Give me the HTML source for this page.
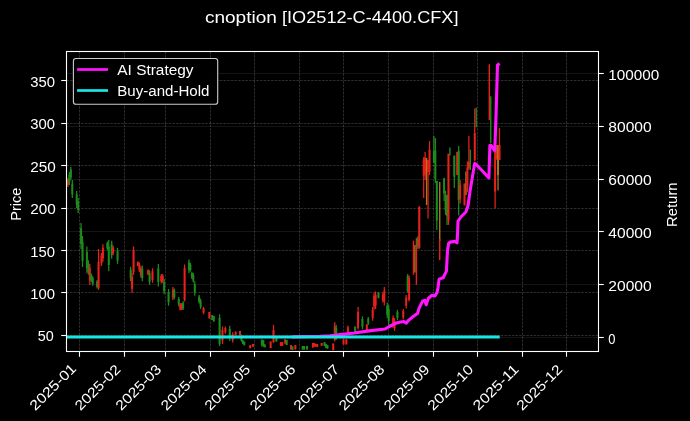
<!DOCTYPE html>
<html><head><meta charset="utf-8"><title>cnoption</title>
<style>html,body{margin:0;padding:0;background:#000;overflow:hidden}svg{display:block;will-change:transform}text{font-family:"Liberation Sans",sans-serif;fill:#fff}</style>
</head><body>
<svg width="690" height="421" viewBox="0 0 690 421">
<rect x="0" y="0" width="690" height="421" fill="#000"/>
<defs><clipPath id="ax"><rect x="66.5" y="51.5" width="532.0" height="300.0"/></clipPath><filter id="bl" x="-5%" y="-5%" width="110%" height="110%"><feGaussianBlur stdDeviation="0.5"/></filter><filter id="bl2" x="-5%" y="-5%" width="110%" height="110%"><feGaussianBlur stdDeviation="0.45"/></filter></defs>
<g clip-path="url(#ax)" fill="none">
<line x1="79.50" y1="51.5" x2="79.50" y2="351.5" stroke="#fff" stroke-opacity="0.25" stroke-width="0.7" stroke-dasharray="2.55,1.1"/>
<line x1="124.50" y1="51.5" x2="124.50" y2="351.5" stroke="#fff" stroke-opacity="0.25" stroke-width="0.7" stroke-dasharray="2.55,1.1"/>
<line x1="165.50" y1="51.5" x2="165.50" y2="351.5" stroke="#fff" stroke-opacity="0.25" stroke-width="0.7" stroke-dasharray="2.55,1.1"/>
<line x1="210.50" y1="51.5" x2="210.50" y2="351.5" stroke="#fff" stroke-opacity="0.25" stroke-width="0.7" stroke-dasharray="2.55,1.1"/>
<line x1="254.50" y1="51.5" x2="254.50" y2="351.5" stroke="#fff" stroke-opacity="0.25" stroke-width="0.7" stroke-dasharray="2.55,1.1"/>
<line x1="299.50" y1="51.5" x2="299.50" y2="351.5" stroke="#fff" stroke-opacity="0.25" stroke-width="0.7" stroke-dasharray="2.55,1.1"/>
<line x1="343.50" y1="51.5" x2="343.50" y2="351.5" stroke="#fff" stroke-opacity="0.25" stroke-width="0.7" stroke-dasharray="2.55,1.1"/>
<line x1="388.50" y1="51.5" x2="388.50" y2="351.5" stroke="#fff" stroke-opacity="0.25" stroke-width="0.7" stroke-dasharray="2.55,1.1"/>
<line x1="433.50" y1="51.5" x2="433.50" y2="351.5" stroke="#fff" stroke-opacity="0.25" stroke-width="0.7" stroke-dasharray="2.55,1.1"/>
<line x1="477.50" y1="51.5" x2="477.50" y2="351.5" stroke="#fff" stroke-opacity="0.25" stroke-width="0.7" stroke-dasharray="2.55,1.1"/>
<line x1="522.50" y1="51.5" x2="522.50" y2="351.5" stroke="#fff" stroke-opacity="0.25" stroke-width="0.7" stroke-dasharray="2.55,1.1"/>
<line x1="566.50" y1="51.5" x2="566.50" y2="351.5" stroke="#fff" stroke-opacity="0.25" stroke-width="0.7" stroke-dasharray="2.55,1.1"/>
<line x1="66.5" y1="335.50" x2="598.5" y2="335.50" stroke="#fff" stroke-opacity="0.25" stroke-width="0.7" stroke-dasharray="2.55,1.1"/>
<line x1="66.5" y1="292.50" x2="598.5" y2="292.50" stroke="#fff" stroke-opacity="0.25" stroke-width="0.7" stroke-dasharray="2.55,1.1"/>
<line x1="66.5" y1="250.50" x2="598.5" y2="250.50" stroke="#fff" stroke-opacity="0.25" stroke-width="0.7" stroke-dasharray="2.55,1.1"/>
<line x1="66.5" y1="208.50" x2="598.5" y2="208.50" stroke="#fff" stroke-opacity="0.25" stroke-width="0.7" stroke-dasharray="2.55,1.1"/>
<line x1="66.5" y1="165.50" x2="598.5" y2="165.50" stroke="#fff" stroke-opacity="0.25" stroke-width="0.7" stroke-dasharray="2.55,1.1"/>
<line x1="66.5" y1="123.50" x2="598.5" y2="123.50" stroke="#fff" stroke-opacity="0.25" stroke-width="0.7" stroke-dasharray="2.55,1.1"/>
<line x1="66.5" y1="80.50" x2="598.5" y2="80.50" stroke="#fff" stroke-opacity="0.25" stroke-width="0.7" stroke-dasharray="2.55,1.1"/>
<line x1="66.5" y1="337.50" x2="598.5" y2="337.50" stroke="#fff" stroke-opacity="0.12" stroke-width="0.7"/>
<line x1="66.5" y1="284.50" x2="598.5" y2="284.50" stroke="#fff" stroke-opacity="0.12" stroke-width="0.7"/>
<line x1="66.5" y1="231.50" x2="598.5" y2="231.50" stroke="#fff" stroke-opacity="0.12" stroke-width="0.7"/>
<line x1="66.5" y1="179.50" x2="598.5" y2="179.50" stroke="#fff" stroke-opacity="0.12" stroke-width="0.7"/>
<line x1="66.5" y1="126.50" x2="598.5" y2="126.50" stroke="#fff" stroke-opacity="0.12" stroke-width="0.7"/>
<line x1="66.5" y1="73.50" x2="598.5" y2="73.50" stroke="#fff" stroke-opacity="0.12" stroke-width="0.7"/>
</g>
<g clip-path="url(#ax)"><g filter="url(#bl)">
<line x1="67.94" y1="178" x2="67.94" y2="187" stroke="#e6201a" stroke-width="1.25"/>
<line x1="67.94" y1="179.8" x2="67.94" y2="185.2" stroke="#e6201a" stroke-width="2.0"/>
<line x1="69.39" y1="172" x2="69.39" y2="185" stroke="#1c8c1e" stroke-width="1.25"/>
<line x1="69.39" y1="174.6" x2="69.39" y2="182.4" stroke="#1c8c1e" stroke-width="2.0"/>
<line x1="70.85" y1="167" x2="70.85" y2="180" stroke="#1c8c1e" stroke-width="1.25"/>
<line x1="70.85" y1="169.6" x2="70.85" y2="177.4" stroke="#1c8c1e" stroke-width="2.0"/>
<line x1="72.31" y1="180" x2="72.31" y2="198" stroke="#1c8c1e" stroke-width="1.25"/>
<line x1="72.31" y1="183.6" x2="72.31" y2="194.4" stroke="#1c8c1e" stroke-width="2.0"/>
<line x1="76.68" y1="191" x2="76.68" y2="208" stroke="#1c8c1e" stroke-width="1.25"/>
<line x1="76.68" y1="194.4" x2="76.68" y2="204.6" stroke="#1c8c1e" stroke-width="2.0"/>
<line x1="78.14" y1="198" x2="78.14" y2="213" stroke="#1c8c1e" stroke-width="1.25"/>
<line x1="78.14" y1="201.0" x2="78.14" y2="210.0" stroke="#1c8c1e" stroke-width="2.0"/>
<line x1="81.06" y1="223" x2="81.06" y2="249" stroke="#1c8c1e" stroke-width="1.25"/>
<line x1="81.06" y1="228.2" x2="81.06" y2="243.8" stroke="#1c8c1e" stroke-width="2.0"/>
<line x1="82.52" y1="236" x2="82.52" y2="267" stroke="#1c8c1e" stroke-width="1.25"/>
<line x1="82.52" y1="242.2" x2="82.52" y2="260.8" stroke="#1c8c1e" stroke-width="2.0"/>
<line x1="86.89" y1="246.5" x2="86.89" y2="273.3" stroke="#1c8c1e" stroke-width="1.25"/>
<line x1="86.89" y1="251.86" x2="86.89" y2="267.94" stroke="#1c8c1e" stroke-width="2.0"/>
<line x1="88.35" y1="260.3" x2="88.35" y2="274.8" stroke="#1c8c1e" stroke-width="1.25"/>
<line x1="88.35" y1="263.2" x2="88.35" y2="271.90000000000003" stroke="#1c8c1e" stroke-width="2.0"/>
<line x1="89.81" y1="263.9" x2="89.81" y2="284.9" stroke="#e6201a" stroke-width="1.25"/>
<line x1="89.81" y1="268.09999999999997" x2="89.81" y2="280.7" stroke="#e6201a" stroke-width="2.0"/>
<line x1="91.26" y1="273.3" x2="91.26" y2="282" stroke="#1c8c1e" stroke-width="1.25"/>
<line x1="91.26" y1="275.04" x2="91.26" y2="280.26" stroke="#1c8c1e" stroke-width="2.0"/>
<line x1="92.72" y1="276.2" x2="92.72" y2="285.7" stroke="#1c8c1e" stroke-width="1.25"/>
<line x1="92.72" y1="278.09999999999997" x2="92.72" y2="283.8" stroke="#1c8c1e" stroke-width="2.0"/>
<line x1="97.1" y1="279.9" x2="97.1" y2="288.6" stroke="#1c8c1e" stroke-width="1.25"/>
<line x1="97.1" y1="281.64" x2="97.1" y2="286.86" stroke="#1c8c1e" stroke-width="2.0"/>
<line x1="98.55" y1="249" x2="98.55" y2="290" stroke="#e6201a" stroke-width="1.25"/>
<line x1="98.55" y1="262" x2="98.55" y2="288" stroke="#e6201a" stroke-width="2.0"/>
<line x1="101.47" y1="253" x2="101.47" y2="266" stroke="#e6201a" stroke-width="1.25"/>
<line x1="101.47" y1="255.6" x2="101.47" y2="263.4" stroke="#e6201a" stroke-width="2.0"/>
<line x1="102.93" y1="244.3" x2="102.93" y2="261.7" stroke="#e6201a" stroke-width="1.25"/>
<line x1="102.93" y1="247.78" x2="102.93" y2="258.21999999999997" stroke="#e6201a" stroke-width="2.0"/>
<line x1="107.3" y1="241.4" x2="107.3" y2="250" stroke="#1c8c1e" stroke-width="1.25"/>
<line x1="107.3" y1="243.12" x2="107.3" y2="248.28" stroke="#1c8c1e" stroke-width="2.0"/>
<line x1="108.76" y1="240" x2="108.76" y2="271.2" stroke="#1c8c1e" stroke-width="1.25"/>
<line x1="108.76" y1="246.24" x2="108.76" y2="264.96" stroke="#1c8c1e" stroke-width="2.0"/>
<line x1="111.68" y1="240.7" x2="111.68" y2="258.8" stroke="#1c8c1e" stroke-width="1.25"/>
<line x1="111.68" y1="244.32" x2="111.68" y2="255.18" stroke="#1c8c1e" stroke-width="2.0"/>
<line x1="113.13" y1="245.8" x2="113.13" y2="255.2" stroke="#e6201a" stroke-width="1.25"/>
<line x1="113.13" y1="247.68" x2="113.13" y2="253.32" stroke="#e6201a" stroke-width="2.0"/>
<line x1="117.51" y1="248" x2="117.51" y2="263.9" stroke="#1c8c1e" stroke-width="1.25"/>
<line x1="117.51" y1="251.18" x2="117.51" y2="260.71999999999997" stroke="#1c8c1e" stroke-width="2.0"/>
<line x1="130.63" y1="266.8" x2="130.63" y2="281.3" stroke="#1c8c1e" stroke-width="1.25"/>
<line x1="130.63" y1="269.7" x2="130.63" y2="278.40000000000003" stroke="#1c8c1e" stroke-width="2.0"/>
<line x1="132.09" y1="272.6" x2="132.09" y2="292.9" stroke="#e6201a" stroke-width="1.25"/>
<line x1="132.09" y1="276.66" x2="132.09" y2="288.84" stroke="#e6201a" stroke-width="2.0"/>
<line x1="133.55" y1="246.5" x2="133.55" y2="274.8" stroke="#e6201a" stroke-width="1.25"/>
<line x1="133.55" y1="250" x2="133.55" y2="272" stroke="#e6201a" stroke-width="2.0"/>
<line x1="137.92" y1="261.7" x2="137.92" y2="266.1" stroke="#e6201a" stroke-width="1.25"/>
<line x1="137.92" y1="261.7" x2="137.92" y2="266.1" stroke="#e6201a" stroke-width="2.0"/>
<line x1="139.38" y1="262.5" x2="139.38" y2="272" stroke="#e6201a" stroke-width="1.25"/>
<line x1="139.38" y1="264.4" x2="139.38" y2="270.1" stroke="#e6201a" stroke-width="2.0"/>
<line x1="140.84" y1="266" x2="140.84" y2="277.7" stroke="#e6201a" stroke-width="1.25"/>
<line x1="140.84" y1="268.34" x2="140.84" y2="275.36" stroke="#e6201a" stroke-width="2.0"/>
<line x1="142.29" y1="265.4" x2="142.29" y2="281.3" stroke="#1c8c1e" stroke-width="1.25"/>
<line x1="142.29" y1="268.58" x2="142.29" y2="278.12" stroke="#1c8c1e" stroke-width="2.0"/>
<line x1="148.13" y1="269.7" x2="148.13" y2="274.8" stroke="#e6201a" stroke-width="1.25"/>
<line x1="148.13" y1="269.7" x2="148.13" y2="274.8" stroke="#e6201a" stroke-width="2.0"/>
<line x1="149.58" y1="270.4" x2="149.58" y2="284.9" stroke="#1c8c1e" stroke-width="1.25"/>
<line x1="149.58" y1="273.29999999999995" x2="149.58" y2="282.0" stroke="#1c8c1e" stroke-width="2.0"/>
<line x1="152.5" y1="268.3" x2="152.5" y2="282.8" stroke="#e6201a" stroke-width="1.25"/>
<line x1="152.5" y1="271.2" x2="152.5" y2="279.90000000000003" stroke="#e6201a" stroke-width="2.0"/>
<line x1="158.33" y1="263.9" x2="158.33" y2="286.4" stroke="#1c8c1e" stroke-width="1.25"/>
<line x1="158.33" y1="268.4" x2="158.33" y2="281.9" stroke="#1c8c1e" stroke-width="2.0"/>
<line x1="161.25" y1="274" x2="161.25" y2="283.4" stroke="#e6201a" stroke-width="1.25"/>
<line x1="161.25" y1="275.88" x2="161.25" y2="281.52" stroke="#e6201a" stroke-width="2.0"/>
<line x1="162.71" y1="274" x2="162.71" y2="283" stroke="#e6201a" stroke-width="1.25"/>
<line x1="162.71" y1="275.8" x2="162.71" y2="281.2" stroke="#e6201a" stroke-width="2.0"/>
<line x1="164.16" y1="279" x2="164.16" y2="294.2" stroke="#1c8c1e" stroke-width="1.25"/>
<line x1="164.16" y1="282.04" x2="164.16" y2="291.15999999999997" stroke="#1c8c1e" stroke-width="2.0"/>
<line x1="168.54" y1="289" x2="168.54" y2="305.8" stroke="#1c8c1e" stroke-width="1.25"/>
<line x1="168.54" y1="292.36" x2="168.54" y2="302.44" stroke="#1c8c1e" stroke-width="2.0"/>
<line x1="172.91" y1="287" x2="172.91" y2="300" stroke="#e6201a" stroke-width="1.25"/>
<line x1="172.91" y1="289.6" x2="172.91" y2="297.4" stroke="#e6201a" stroke-width="2.0"/>
<line x1="174.37" y1="288.4" x2="174.37" y2="299.3" stroke="#1c8c1e" stroke-width="1.25"/>
<line x1="174.37" y1="290.58" x2="174.37" y2="297.12" stroke="#1c8c1e" stroke-width="2.0"/>
<line x1="178.74" y1="297" x2="178.74" y2="306.5" stroke="#1c8c1e" stroke-width="1.25"/>
<line x1="178.74" y1="298.9" x2="178.74" y2="304.6" stroke="#1c8c1e" stroke-width="2.0"/>
<line x1="180.2" y1="303" x2="180.2" y2="310.6" stroke="#e6201a" stroke-width="1.25"/>
<line x1="180.2" y1="304.52" x2="180.2" y2="309.08000000000004" stroke="#e6201a" stroke-width="2.0"/>
<line x1="181.66" y1="303.3" x2="181.66" y2="310" stroke="#e6201a" stroke-width="1.25"/>
<line x1="181.66" y1="303.3" x2="181.66" y2="310" stroke="#e6201a" stroke-width="2.0"/>
<line x1="183.12" y1="301" x2="183.12" y2="310" stroke="#1c8c1e" stroke-width="1.25"/>
<line x1="183.12" y1="302.8" x2="183.12" y2="308.2" stroke="#1c8c1e" stroke-width="2.0"/>
<line x1="184.58" y1="264.5" x2="184.58" y2="301.6" stroke="#e6201a" stroke-width="1.25"/>
<line x1="184.58" y1="268" x2="184.58" y2="300" stroke="#e6201a" stroke-width="2.0"/>
<line x1="188.95" y1="259.4" x2="188.95" y2="273.2" stroke="#1c8c1e" stroke-width="1.25"/>
<line x1="188.95" y1="262.15999999999997" x2="188.95" y2="270.44" stroke="#1c8c1e" stroke-width="2.0"/>
<line x1="190.41" y1="263" x2="190.41" y2="271.7" stroke="#1c8c1e" stroke-width="1.25"/>
<line x1="190.41" y1="264.74" x2="190.41" y2="269.96" stroke="#1c8c1e" stroke-width="2.0"/>
<line x1="191.87" y1="271.7" x2="191.87" y2="279" stroke="#1c8c1e" stroke-width="1.25"/>
<line x1="191.87" y1="273.15999999999997" x2="191.87" y2="277.54" stroke="#1c8c1e" stroke-width="2.0"/>
<line x1="193.32" y1="273" x2="193.32" y2="282.6" stroke="#1c8c1e" stroke-width="1.25"/>
<line x1="193.32" y1="274.92" x2="193.32" y2="280.68" stroke="#1c8c1e" stroke-width="2.0"/>
<line x1="194.78" y1="281.2" x2="194.78" y2="295.7" stroke="#1c8c1e" stroke-width="1.25"/>
<line x1="194.78" y1="284.09999999999997" x2="194.78" y2="292.8" stroke="#1c8c1e" stroke-width="2.0"/>
<line x1="199.16" y1="295" x2="199.16" y2="303.5" stroke="#1c8c1e" stroke-width="1.25"/>
<line x1="199.16" y1="296.7" x2="199.16" y2="301.8" stroke="#1c8c1e" stroke-width="2.0"/>
<line x1="200.61" y1="298.8" x2="200.61" y2="309" stroke="#1c8c1e" stroke-width="1.25"/>
<line x1="200.61" y1="300.84000000000003" x2="200.61" y2="306.96" stroke="#1c8c1e" stroke-width="2.0"/>
<line x1="203.53" y1="306.7" x2="203.53" y2="314.2" stroke="#e6201a" stroke-width="1.25"/>
<line x1="203.53" y1="308.2" x2="203.53" y2="312.7" stroke="#e6201a" stroke-width="2.0"/>
<line x1="209.36" y1="312" x2="209.36" y2="318.5" stroke="#e6201a" stroke-width="1.25"/>
<line x1="209.36" y1="312" x2="209.36" y2="318.5" stroke="#e6201a" stroke-width="2.0"/>
<line x1="212.28" y1="315" x2="212.28" y2="320" stroke="#1c8c1e" stroke-width="1.25"/>
<line x1="212.28" y1="315" x2="212.28" y2="320" stroke="#1c8c1e" stroke-width="2.0"/>
<line x1="213.74" y1="316" x2="213.74" y2="321.4" stroke="#1c8c1e" stroke-width="1.25"/>
<line x1="213.74" y1="316" x2="213.74" y2="321.4" stroke="#1c8c1e" stroke-width="2.0"/>
<line x1="219.57" y1="314.2" x2="219.57" y2="346" stroke="#1c8c1e" stroke-width="1.25"/>
<line x1="219.57" y1="318" x2="219.57" y2="344" stroke="#1c8c1e" stroke-width="2.0"/>
<line x1="222.48" y1="326.5" x2="222.48" y2="344" stroke="#e6201a" stroke-width="1.25"/>
<line x1="222.48" y1="330.0" x2="222.48" y2="340.5" stroke="#e6201a" stroke-width="2.0"/>
<line x1="225.4" y1="326.5" x2="225.4" y2="333.8" stroke="#e6201a" stroke-width="1.25"/>
<line x1="225.4" y1="327.96" x2="225.4" y2="332.34000000000003" stroke="#e6201a" stroke-width="2.0"/>
<line x1="229.77" y1="325.8" x2="229.77" y2="341" stroke="#1c8c1e" stroke-width="1.25"/>
<line x1="229.77" y1="328.84000000000003" x2="229.77" y2="337.96" stroke="#1c8c1e" stroke-width="2.0"/>
<line x1="232.69" y1="332.3" x2="232.69" y2="342.4" stroke="#e6201a" stroke-width="1.25"/>
<line x1="232.69" y1="334.32" x2="232.69" y2="340.38" stroke="#e6201a" stroke-width="2.0"/>
<line x1="235.61" y1="331.6" x2="235.61" y2="335.2" stroke="#e6201a" stroke-width="1.25"/>
<line x1="235.61" y1="331.6" x2="235.61" y2="335.2" stroke="#e6201a" stroke-width="2.0"/>
<line x1="239.98" y1="330.9" x2="239.98" y2="335.2" stroke="#e6201a" stroke-width="1.25"/>
<line x1="239.98" y1="330.9" x2="239.98" y2="335.2" stroke="#e6201a" stroke-width="2.0"/>
<line x1="241.44" y1="334.5" x2="241.44" y2="341.7" stroke="#1c8c1e" stroke-width="1.25"/>
<line x1="241.44" y1="335.94" x2="241.44" y2="340.26" stroke="#1c8c1e" stroke-width="2.0"/>
<line x1="242.9" y1="340.3" x2="242.9" y2="343.9" stroke="#1c8c1e" stroke-width="1.25"/>
<line x1="242.9" y1="340.3" x2="242.9" y2="343.9" stroke="#1c8c1e" stroke-width="2.0"/>
<line x1="244.35" y1="341.7" x2="244.35" y2="345.3" stroke="#1c8c1e" stroke-width="1.25"/>
<line x1="244.35" y1="341.7" x2="244.35" y2="345.3" stroke="#1c8c1e" stroke-width="2.0"/>
<line x1="250.19" y1="345.3" x2="250.19" y2="348.2" stroke="#e6201a" stroke-width="1.25"/>
<line x1="250.19" y1="345.3" x2="250.19" y2="348.2" stroke="#e6201a" stroke-width="2.0"/>
<line x1="253.1" y1="343.9" x2="253.1" y2="346.8" stroke="#e6201a" stroke-width="1.25"/>
<line x1="253.1" y1="343.9" x2="253.1" y2="346.8" stroke="#e6201a" stroke-width="2.0"/>
<line x1="261.85" y1="339.3" x2="261.85" y2="346.5" stroke="#1c8c1e" stroke-width="1.25"/>
<line x1="261.85" y1="340.74" x2="261.85" y2="345.06" stroke="#1c8c1e" stroke-width="2.0"/>
<line x1="263.31" y1="340" x2="263.31" y2="346.5" stroke="#1c8c1e" stroke-width="1.25"/>
<line x1="263.31" y1="340" x2="263.31" y2="346.5" stroke="#1c8c1e" stroke-width="2.0"/>
<line x1="264.77" y1="344.4" x2="264.77" y2="347.3" stroke="#1c8c1e" stroke-width="1.25"/>
<line x1="264.77" y1="344.4" x2="264.77" y2="347.3" stroke="#1c8c1e" stroke-width="2.0"/>
<line x1="270.6" y1="341.5" x2="270.6" y2="348" stroke="#e6201a" stroke-width="1.25"/>
<line x1="270.6" y1="341.5" x2="270.6" y2="348" stroke="#e6201a" stroke-width="2.0"/>
<line x1="273.51" y1="324.8" x2="273.51" y2="343" stroke="#e6201a" stroke-width="1.25"/>
<line x1="273.51" y1="330" x2="273.51" y2="342" stroke="#e6201a" stroke-width="2.0"/>
<line x1="276.43" y1="337" x2="276.43" y2="341.5" stroke="#1c8c1e" stroke-width="1.25"/>
<line x1="276.43" y1="337" x2="276.43" y2="341.5" stroke="#1c8c1e" stroke-width="2.0"/>
<line x1="280.8" y1="342.2" x2="280.8" y2="345.8" stroke="#e6201a" stroke-width="1.25"/>
<line x1="280.8" y1="342.2" x2="280.8" y2="345.8" stroke="#e6201a" stroke-width="2.0"/>
<line x1="282.26" y1="342.2" x2="282.26" y2="345.8" stroke="#e6201a" stroke-width="1.25"/>
<line x1="282.26" y1="342.2" x2="282.26" y2="345.8" stroke="#e6201a" stroke-width="2.0"/>
<line x1="285.18" y1="339.3" x2="285.18" y2="343.6" stroke="#e6201a" stroke-width="1.25"/>
<line x1="285.18" y1="339.3" x2="285.18" y2="343.6" stroke="#e6201a" stroke-width="2.0"/>
<line x1="286.64" y1="340" x2="286.64" y2="345" stroke="#1c8c1e" stroke-width="1.25"/>
<line x1="286.64" y1="340" x2="286.64" y2="345" stroke="#1c8c1e" stroke-width="2.0"/>
<line x1="291.01" y1="345" x2="291.01" y2="349.4" stroke="#e6201a" stroke-width="1.25"/>
<line x1="291.01" y1="345" x2="291.01" y2="349.4" stroke="#e6201a" stroke-width="2.0"/>
<line x1="292.47" y1="346.5" x2="292.47" y2="350" stroke="#1c8c1e" stroke-width="1.25"/>
<line x1="292.47" y1="346.5" x2="292.47" y2="350" stroke="#1c8c1e" stroke-width="2.0"/>
<line x1="295.38" y1="345" x2="295.38" y2="349.4" stroke="#e6201a" stroke-width="1.25"/>
<line x1="295.38" y1="345" x2="295.38" y2="349.4" stroke="#e6201a" stroke-width="2.0"/>
<line x1="302.67" y1="346" x2="302.67" y2="349.4" stroke="#1c8c1e" stroke-width="1.25"/>
<line x1="302.67" y1="346" x2="302.67" y2="349.4" stroke="#1c8c1e" stroke-width="2.0"/>
<line x1="304.13" y1="346" x2="304.13" y2="349.4" stroke="#1c8c1e" stroke-width="1.25"/>
<line x1="304.13" y1="346" x2="304.13" y2="349.4" stroke="#1c8c1e" stroke-width="2.0"/>
<line x1="307.05" y1="346" x2="307.05" y2="349.4" stroke="#1c8c1e" stroke-width="1.25"/>
<line x1="307.05" y1="346" x2="307.05" y2="349.4" stroke="#1c8c1e" stroke-width="2.0"/>
<line x1="312.88" y1="343" x2="312.88" y2="347.5" stroke="#e6201a" stroke-width="1.25"/>
<line x1="312.88" y1="343" x2="312.88" y2="347.5" stroke="#e6201a" stroke-width="2.0"/>
<line x1="314.34" y1="343" x2="314.34" y2="346.5" stroke="#e6201a" stroke-width="1.25"/>
<line x1="314.34" y1="343" x2="314.34" y2="346.5" stroke="#e6201a" stroke-width="2.0"/>
<line x1="315.8" y1="344" x2="315.8" y2="346.5" stroke="#e6201a" stroke-width="1.25"/>
<line x1="315.8" y1="344" x2="315.8" y2="346.5" stroke="#e6201a" stroke-width="2.0"/>
<line x1="317.25" y1="344" x2="317.25" y2="347" stroke="#e6201a" stroke-width="1.25"/>
<line x1="317.25" y1="344" x2="317.25" y2="347" stroke="#e6201a" stroke-width="2.0"/>
<line x1="321.63" y1="343" x2="321.63" y2="345.8" stroke="#e6201a" stroke-width="1.25"/>
<line x1="321.63" y1="343" x2="321.63" y2="345.8" stroke="#e6201a" stroke-width="2.0"/>
<line x1="324.54" y1="342.2" x2="324.54" y2="346" stroke="#1c8c1e" stroke-width="1.25"/>
<line x1="324.54" y1="342.2" x2="324.54" y2="346" stroke="#1c8c1e" stroke-width="2.0"/>
<line x1="326.0" y1="344" x2="326.0" y2="348" stroke="#1c8c1e" stroke-width="1.25"/>
<line x1="326.0" y1="344" x2="326.0" y2="348" stroke="#1c8c1e" stroke-width="2.0"/>
<line x1="327.46" y1="345" x2="327.46" y2="348.7" stroke="#1c8c1e" stroke-width="1.25"/>
<line x1="327.46" y1="345" x2="327.46" y2="348.7" stroke="#1c8c1e" stroke-width="2.0"/>
<line x1="333.29" y1="343.6" x2="333.29" y2="350.2" stroke="#e6201a" stroke-width="1.25"/>
<line x1="333.29" y1="343.6" x2="333.29" y2="350.2" stroke="#e6201a" stroke-width="2.0"/>
<line x1="334.75" y1="321.9" x2="334.75" y2="341.5" stroke="#e6201a" stroke-width="1.25"/>
<line x1="334.75" y1="326" x2="334.75" y2="340" stroke="#e6201a" stroke-width="2.0"/>
<line x1="336.21" y1="324.8" x2="336.21" y2="340" stroke="#1c8c1e" stroke-width="1.25"/>
<line x1="336.21" y1="327.84000000000003" x2="336.21" y2="336.96" stroke="#1c8c1e" stroke-width="2.0"/>
<line x1="343.5" y1="339.3" x2="343.5" y2="344.4" stroke="#e6201a" stroke-width="1.25"/>
<line x1="343.5" y1="339.3" x2="343.5" y2="344.4" stroke="#e6201a" stroke-width="2.0"/>
<line x1="346.41" y1="339.3" x2="346.41" y2="344.4" stroke="#e6201a" stroke-width="1.25"/>
<line x1="346.41" y1="339.3" x2="346.41" y2="344.4" stroke="#e6201a" stroke-width="2.0"/>
<line x1="347.87" y1="325.5" x2="347.87" y2="334.2" stroke="#e6201a" stroke-width="1.25"/>
<line x1="347.87" y1="327.24" x2="347.87" y2="332.46" stroke="#e6201a" stroke-width="2.0"/>
<line x1="355.16" y1="326.5" x2="355.16" y2="332.3" stroke="#1c8c1e" stroke-width="1.25"/>
<line x1="355.16" y1="326.5" x2="355.16" y2="332.3" stroke="#1c8c1e" stroke-width="2.0"/>
<line x1="358.08" y1="307" x2="358.08" y2="329.4" stroke="#e6201a" stroke-width="1.25"/>
<line x1="358.08" y1="312" x2="358.08" y2="328" stroke="#e6201a" stroke-width="2.0"/>
<line x1="362.45" y1="316.4" x2="362.45" y2="329.4" stroke="#1c8c1e" stroke-width="1.25"/>
<line x1="362.45" y1="319.0" x2="362.45" y2="326.79999999999995" stroke="#1c8c1e" stroke-width="2.0"/>
<line x1="366.83" y1="324.3" x2="366.83" y2="330" stroke="#e6201a" stroke-width="1.25"/>
<line x1="366.83" y1="324.3" x2="366.83" y2="330" stroke="#e6201a" stroke-width="2.0"/>
<line x1="368.28" y1="317" x2="368.28" y2="325" stroke="#1c8c1e" stroke-width="1.25"/>
<line x1="368.28" y1="318.6" x2="368.28" y2="323.4" stroke="#1c8c1e" stroke-width="2.0"/>
<line x1="372.66" y1="307" x2="372.66" y2="320.7" stroke="#e6201a" stroke-width="1.25"/>
<line x1="372.66" y1="309.74" x2="372.66" y2="317.96" stroke="#e6201a" stroke-width="2.0"/>
<line x1="374.12" y1="292.4" x2="374.12" y2="309.8" stroke="#e6201a" stroke-width="1.25"/>
<line x1="374.12" y1="295.88" x2="374.12" y2="306.32" stroke="#e6201a" stroke-width="2.0"/>
<line x1="375.57" y1="291.4" x2="375.57" y2="309" stroke="#e6201a" stroke-width="1.25"/>
<line x1="375.57" y1="294.91999999999996" x2="375.57" y2="305.48" stroke="#e6201a" stroke-width="2.0"/>
<line x1="378.49" y1="292.4" x2="378.49" y2="298.2" stroke="#1c8c1e" stroke-width="1.25"/>
<line x1="378.49" y1="292.4" x2="378.49" y2="298.2" stroke="#1c8c1e" stroke-width="2.0"/>
<line x1="382.86" y1="292.4" x2="382.86" y2="302.6" stroke="#e6201a" stroke-width="1.25"/>
<line x1="382.86" y1="294.44" x2="382.86" y2="300.56" stroke="#e6201a" stroke-width="2.0"/>
<line x1="384.32" y1="287" x2="384.32" y2="305.5" stroke="#e6201a" stroke-width="1.25"/>
<line x1="384.32" y1="290.7" x2="384.32" y2="301.8" stroke="#e6201a" stroke-width="2.0"/>
<line x1="387.24" y1="302.6" x2="387.24" y2="318" stroke="#1c8c1e" stroke-width="1.25"/>
<line x1="387.24" y1="305.68" x2="387.24" y2="314.92" stroke="#1c8c1e" stroke-width="2.0"/>
<line x1="388.7" y1="305" x2="388.7" y2="325" stroke="#1c8c1e" stroke-width="1.25"/>
<line x1="388.7" y1="309.0" x2="388.7" y2="321.0" stroke="#1c8c1e" stroke-width="2.0"/>
<line x1="393.07" y1="315.6" x2="393.07" y2="328" stroke="#e6201a" stroke-width="1.25"/>
<line x1="393.07" y1="318.08000000000004" x2="393.07" y2="325.52" stroke="#e6201a" stroke-width="2.0"/>
<line x1="394.53" y1="318" x2="394.53" y2="330.9" stroke="#e6201a" stroke-width="1.25"/>
<line x1="394.53" y1="320.58" x2="394.53" y2="328.32" stroke="#e6201a" stroke-width="2.0"/>
<line x1="397.44" y1="309.8" x2="397.44" y2="320" stroke="#1c8c1e" stroke-width="1.25"/>
<line x1="397.44" y1="311.84000000000003" x2="397.44" y2="317.96" stroke="#1c8c1e" stroke-width="2.0"/>
<line x1="403.28" y1="309" x2="403.28" y2="319.3" stroke="#e6201a" stroke-width="1.25"/>
<line x1="403.28" y1="311.06" x2="403.28" y2="317.24" stroke="#e6201a" stroke-width="2.0"/>
<line x1="406.19" y1="295" x2="406.19" y2="308.5" stroke="#e6201a" stroke-width="1.25"/>
<line x1="406.19" y1="297.7" x2="406.19" y2="305.8" stroke="#e6201a" stroke-width="2.0"/>
<line x1="407.65" y1="274" x2="407.65" y2="292.5" stroke="#1c8c1e" stroke-width="1.25"/>
<line x1="407.65" y1="276" x2="407.65" y2="291" stroke="#1c8c1e" stroke-width="2.0"/>
<line x1="409.11" y1="275.5" x2="409.11" y2="301.5" stroke="#e6201a" stroke-width="1.25"/>
<line x1="409.11" y1="278" x2="409.11" y2="300" stroke="#e6201a" stroke-width="2.0"/>
<line x1="413.48" y1="240.7" x2="413.48" y2="274.8" stroke="#e6201a" stroke-width="1.4"/>
<line x1="414.94" y1="245" x2="414.94" y2="272.6" stroke="#a87a1c" stroke-width="1.4"/>
<line x1="416.4" y1="237.8" x2="416.4" y2="284.9" stroke="#e6201a" stroke-width="1.4"/>
<line x1="417.86" y1="236" x2="417.86" y2="249" stroke="#1c8c1e" stroke-width="1.25"/>
<line x1="417.86" y1="238.6" x2="417.86" y2="246.4" stroke="#1c8c1e" stroke-width="2.0"/>
<line x1="419.31" y1="206" x2="419.31" y2="248.7" stroke="#e6201a" stroke-width="1.25"/>
<line x1="419.31" y1="207" x2="419.31" y2="248" stroke="#e6201a" stroke-width="2.0"/>
<line x1="423.69" y1="157" x2="423.69" y2="198" stroke="#e6201a" stroke-width="1.25"/>
<line x1="423.69" y1="159.4" x2="423.69" y2="175.9" stroke="#e6201a" stroke-width="2.0"/>
<line x1="425.15" y1="151.9" x2="425.15" y2="180" stroke="#e6201a" stroke-width="1.25"/>
<line x1="425.15" y1="157.52" x2="425.15" y2="174.38" stroke="#e6201a" stroke-width="2.0"/>
<line x1="426.6" y1="158" x2="426.6" y2="205" stroke="#a87a1c" stroke-width="1.4"/>
<line x1="428.06" y1="160" x2="428.06" y2="218.4" stroke="#e6201a" stroke-width="1.25"/>
<line x1="428.06" y1="160" x2="428.06" y2="172" stroke="#e6201a" stroke-width="2.0"/>
<line x1="429.52" y1="141" x2="429.52" y2="175" stroke="#e6201a" stroke-width="1.25"/>
<line x1="429.52" y1="149.7" x2="429.52" y2="171.5" stroke="#e6201a" stroke-width="2.0"/>
<line x1="433.89" y1="136" x2="433.89" y2="162.7" stroke="#1c8c1e" stroke-width="1.25"/>
<line x1="433.89" y1="150.6" x2="433.89" y2="162.9" stroke="#1c8c1e" stroke-width="2.0"/>
<line x1="435.35" y1="138" x2="435.35" y2="183" stroke="#1c8c1e" stroke-width="1.25"/>
<line x1="435.35" y1="150.6" x2="435.35" y2="179.4" stroke="#1c8c1e" stroke-width="2.0"/>
<line x1="436.81" y1="180.7" x2="436.81" y2="230" stroke="#1c8c1e" stroke-width="1.25"/>
<line x1="436.81" y1="181" x2="436.81" y2="220.6" stroke="#1c8c1e" stroke-width="2.0"/>
<line x1="439.73" y1="182" x2="439.73" y2="241" stroke="#a87a1c" stroke-width="1.4"/>
<line x1="439.73" y1="239" x2="439.73" y2="260.3" stroke="#e6201a" stroke-width="1.4"/>
<line x1="444.1" y1="177.8" x2="444.1" y2="201" stroke="#1c8c1e" stroke-width="1.25"/>
<line x1="444.1" y1="178.5" x2="444.1" y2="193.5" stroke="#1c8c1e" stroke-width="2.0"/>
<line x1="445.56" y1="190.8" x2="445.56" y2="215" stroke="#1c8c1e" stroke-width="1.25"/>
<line x1="445.56" y1="195.64000000000001" x2="445.56" y2="210.16" stroke="#1c8c1e" stroke-width="2.0"/>
<line x1="447.02" y1="195" x2="447.02" y2="224.9" stroke="#1c8c1e" stroke-width="1.25"/>
<line x1="447.02" y1="195" x2="447.02" y2="216.2" stroke="#1c8c1e" stroke-width="2.0"/>
<line x1="448.47" y1="154" x2="448.47" y2="224.9" stroke="#e6201a" stroke-width="1.25"/>
<line x1="448.47" y1="153.6" x2="448.47" y2="220.6" stroke="#e6201a" stroke-width="2.0"/>
<line x1="449.93" y1="147.5" x2="449.93" y2="155.5" stroke="#1c8c1e" stroke-width="1.4"/>
<line x1="454.31" y1="155.5" x2="454.31" y2="188" stroke="#1c8c1e" stroke-width="1.25"/>
<line x1="454.31" y1="155.8" x2="454.31" y2="176.8" stroke="#1c8c1e" stroke-width="2.0"/>
<line x1="457.22" y1="151.9" x2="457.22" y2="175" stroke="#e6201a" stroke-width="1.25"/>
<line x1="457.22" y1="151.9" x2="457.22" y2="175" stroke="#e6201a" stroke-width="2.0"/>
<line x1="458.68" y1="146" x2="458.68" y2="215.5" stroke="#1c8c1e" stroke-width="1.25"/>
<line x1="458.68" y1="150.6" x2="458.68" y2="200" stroke="#1c8c1e" stroke-width="2.0"/>
<line x1="460.14" y1="180" x2="460.14" y2="203.5" stroke="#e6201a" stroke-width="1.25"/>
<line x1="460.14" y1="184.7" x2="460.14" y2="198.8" stroke="#e6201a" stroke-width="2.0"/>
<line x1="464.51" y1="183.6" x2="464.51" y2="205.3" stroke="#e6201a" stroke-width="1.25"/>
<line x1="464.51" y1="183.6" x2="464.51" y2="205.3" stroke="#e6201a" stroke-width="2.0"/>
<line x1="465.97" y1="171.6" x2="465.97" y2="195" stroke="#a87a1c" stroke-width="1.4"/>
<line x1="467.43" y1="161.3" x2="467.43" y2="192.3" stroke="#e6201a" stroke-width="1.25"/>
<line x1="467.43" y1="167.5" x2="467.43" y2="186.10000000000002" stroke="#e6201a" stroke-width="2.0"/>
<line x1="468.89" y1="135.9" x2="468.89" y2="170" stroke="#e6201a" stroke-width="1.25"/>
<line x1="468.89" y1="162" x2="468.89" y2="168" stroke="#e6201a" stroke-width="2.0"/>
<line x1="470.34" y1="149.7" x2="470.34" y2="170" stroke="#1c8c1e" stroke-width="1.4"/>
<line x1="474.72" y1="108.5" x2="474.72" y2="161.3" stroke="#e6201a" stroke-width="1.25"/>
<line x1="474.72" y1="133" x2="474.72" y2="160.2" stroke="#e6201a" stroke-width="2.0"/>
<line x1="476.18" y1="107.8" x2="476.18" y2="127.2" stroke="#1c8c1e" stroke-width="1.4"/>
<line x1="489.3" y1="64.3" x2="489.3" y2="120" stroke="#e6201a" stroke-width="1.4"/>
<line x1="490.76" y1="96.2" x2="490.76" y2="143.2" stroke="#1c8c1e" stroke-width="1.4"/>
<line x1="495.13" y1="148" x2="495.13" y2="208.5" stroke="#e6201a" stroke-width="1.25"/>
<line x1="495.13" y1="150" x2="495.13" y2="191.5" stroke="#e6201a" stroke-width="2.0"/>
<line x1="496.59" y1="145" x2="496.59" y2="159.5" stroke="#e6201a" stroke-width="1.25"/>
<line x1="496.59" y1="145" x2="496.59" y2="159.5" stroke="#e6201a" stroke-width="2.0"/>
<line x1="498.05" y1="145" x2="498.05" y2="190.5" stroke="#a87a1c" stroke-width="1.25"/>
<line x1="498.05" y1="145" x2="498.05" y2="175" stroke="#a87a1c" stroke-width="2.0"/>
<line x1="499.5" y1="128" x2="499.5" y2="160" stroke="#e6201a" stroke-width="1.25"/>
<line x1="499.5" y1="145" x2="499.5" y2="160" stroke="#e6201a" stroke-width="2.0"/>
</g></g>
<g clip-path="url(#ax)"><g fill="none" stroke-linejoin="round" stroke-linecap="butt" filter="url(#bl2)">
<polyline points="292,336.9 302,336.65 320,336.3 330,335.8 335,335.2 340,334.6 354.5,333 369,330.9 385,329 389.3,326.5 395,323.6 399.4,322.2 403.8,321.4 406.4,323.2 408.1,320.7 412.5,317.1 415.4,314.9 417.5,313.5 419,308.4 422.6,301.1 424.8,300.4 426.2,304.8 428.4,298.2 432,295.3 434.9,296 437.1,292.4 438,287.8 439.1,279.1 443.2,277.7 446.4,271.1 447.5,250.8 448.6,243.6 450,242.1 455.1,241.4 457,242.9 457.6,233 458,221.3 460.9,216.9 465.9,212 468.1,205.3 470.3,189.4 472.5,176.3 474.7,163.4 476,164.3 488.9,177.9 489.9,145.3 491.2,145.5 494.8,150.8 496.1,113 497.5,65 499.7,63.6" stroke="#ff14ff" stroke-width="3.1"/>
<polyline points="66.7,336.9 499.7,336.9" stroke="#19e6e6" stroke-width="3.0"/>
</g></g>
<rect x="66.5" y="51.5" width="532.0" height="300.0" fill="none" stroke="#fff" stroke-width="1.1"/>
<g stroke="#fff" stroke-width="1.1">
<line x1="79.50" y1="351.5" x2="79.50" y2="356.8"/>
<line x1="124.50" y1="351.5" x2="124.50" y2="356.8"/>
<line x1="165.50" y1="351.5" x2="165.50" y2="356.8"/>
<line x1="210.50" y1="351.5" x2="210.50" y2="356.8"/>
<line x1="254.50" y1="351.5" x2="254.50" y2="356.8"/>
<line x1="299.50" y1="351.5" x2="299.50" y2="356.8"/>
<line x1="343.50" y1="351.5" x2="343.50" y2="356.8"/>
<line x1="388.50" y1="351.5" x2="388.50" y2="356.8"/>
<line x1="433.50" y1="351.5" x2="433.50" y2="356.8"/>
<line x1="477.50" y1="351.5" x2="477.50" y2="356.8"/>
<line x1="522.50" y1="351.5" x2="522.50" y2="356.8"/>
<line x1="566.50" y1="351.5" x2="566.50" y2="356.8"/>
<line x1="61.2" y1="335.50" x2="66.5" y2="335.50"/>
<line x1="61.2" y1="292.50" x2="66.5" y2="292.50"/>
<line x1="61.2" y1="250.50" x2="66.5" y2="250.50"/>
<line x1="61.2" y1="208.50" x2="66.5" y2="208.50"/>
<line x1="61.2" y1="165.50" x2="66.5" y2="165.50"/>
<line x1="61.2" y1="123.50" x2="66.5" y2="123.50"/>
<line x1="61.2" y1="80.50" x2="66.5" y2="80.50"/>
<line x1="598.5" y1="337.50" x2="603.8" y2="337.50"/>
<line x1="598.5" y1="284.50" x2="603.8" y2="284.50"/>
<line x1="598.5" y1="231.50" x2="603.8" y2="231.50"/>
<line x1="598.5" y1="179.50" x2="603.8" y2="179.50"/>
<line x1="598.5" y1="126.50" x2="603.8" y2="126.50"/>
<line x1="598.5" y1="73.50" x2="603.8" y2="73.50"/>
</g>
<text x="53.8" y="341.10" font-size="14" text-anchor="end" textLength="16.0" lengthAdjust="spacingAndGlyphs">50</text>
<text x="55.0" y="299.10" font-size="14" text-anchor="end" textLength="24.8" lengthAdjust="spacingAndGlyphs">100</text>
<text x="55.0" y="257.10" font-size="14" text-anchor="end" textLength="24.8" lengthAdjust="spacingAndGlyphs">150</text>
<text x="55.8" y="214.10" font-size="14" text-anchor="end" textLength="25.6" lengthAdjust="spacingAndGlyphs">200</text>
<text x="55.8" y="172.10" font-size="14" text-anchor="end" textLength="25.6" lengthAdjust="spacingAndGlyphs">250</text>
<text x="55.0" y="129.10" font-size="14" text-anchor="end" textLength="24.8" lengthAdjust="spacingAndGlyphs">300</text>
<text x="55.0" y="87.10" font-size="14" text-anchor="end" textLength="24.8" lengthAdjust="spacingAndGlyphs">350</text>
<text x="608.3" y="344.00" font-size="14" text-anchor="start" textLength="7.2" lengthAdjust="spacingAndGlyphs">0</text>
<text x="608.3" y="291.00" font-size="14" text-anchor="start" textLength="43.4" lengthAdjust="spacingAndGlyphs">20000</text>
<text x="608.3" y="238.00" font-size="14" text-anchor="start" textLength="43.4" lengthAdjust="spacingAndGlyphs">40000</text>
<text x="608.3" y="184.95" font-size="14" text-anchor="start" textLength="43.4" lengthAdjust="spacingAndGlyphs">60000</text>
<text x="608.3" y="131.95" font-size="14" text-anchor="start" textLength="43.4" lengthAdjust="spacingAndGlyphs">80000</text>
<text x="608.3" y="80.00" font-size="14" text-anchor="start" textLength="51.0" lengthAdjust="spacingAndGlyphs">100000</text>
<text transform="translate(77.10,369.40) rotate(-45)" font-size="14" text-anchor="end" textLength="59.1" lengthAdjust="spacingAndGlyphs">2025-01</text>
<text transform="translate(121.45,370.25) rotate(-45)" font-size="14" text-anchor="end" textLength="57.9" lengthAdjust="spacingAndGlyphs">2025-02</text>
<text transform="translate(162.27,370.25) rotate(-45)" font-size="14" text-anchor="end" textLength="57.9" lengthAdjust="spacingAndGlyphs">2025-03</text>
<text transform="translate(207.47,370.25) rotate(-45)" font-size="14" text-anchor="end" textLength="57.9" lengthAdjust="spacingAndGlyphs">2025-04</text>
<text transform="translate(251.21,370.25) rotate(-45)" font-size="14" text-anchor="end" textLength="57.9" lengthAdjust="spacingAndGlyphs">2025-05</text>
<text transform="translate(296.41,370.25) rotate(-45)" font-size="14" text-anchor="end" textLength="57.9" lengthAdjust="spacingAndGlyphs">2025-06</text>
<text transform="translate(340.15,370.25) rotate(-45)" font-size="14" text-anchor="end" textLength="57.9" lengthAdjust="spacingAndGlyphs">2025-07</text>
<text transform="translate(385.35,370.25) rotate(-45)" font-size="14" text-anchor="end" textLength="57.9" lengthAdjust="spacingAndGlyphs">2025-08</text>
<text transform="translate(430.55,370.25) rotate(-45)" font-size="14" text-anchor="end" textLength="57.9" lengthAdjust="spacingAndGlyphs">2025-09</text>
<text transform="translate(474.29,370.25) rotate(-45)" font-size="14" text-anchor="end" textLength="57.9" lengthAdjust="spacingAndGlyphs">2025-10</text>
<text transform="translate(519.48,370.25) rotate(-45)" font-size="14" text-anchor="end" textLength="57.9" lengthAdjust="spacingAndGlyphs">2025-11</text>
<text transform="translate(563.22,370.25) rotate(-45)" font-size="14" text-anchor="end" textLength="57.9" lengthAdjust="spacingAndGlyphs">2025-12</text>
<text transform="translate(21.1,204.2) rotate(-90)" font-size="14" text-anchor="middle" textLength="33.0" lengthAdjust="spacingAndGlyphs">Price</text>
<text transform="translate(677.4,204.7) rotate(-90)" font-size="14" text-anchor="middle" textLength="44.6" lengthAdjust="spacingAndGlyphs">Return</text>
<text x="204.9" y="23.4" font-size="16.8" textLength="72" lengthAdjust="spacingAndGlyphs">cnoption</text>
<text x="282.0" y="23.4" font-size="16.8" textLength="176.5" lengthAdjust="spacingAndGlyphs">[IO2512-C-4400.CFX]</text>
<rect x="73.4" y="58.5" width="144.3" height="45.8" rx="2.6" ry="2.6" fill="#000" fill-opacity="0.95" stroke="#ccc" stroke-width="1.1"/>
<line x1="77.1" y1="69.5" x2="108.0" y2="69.5" stroke="#ff14ff" stroke-width="2.7"/>
<line x1="77.1" y1="90.5" x2="108.0" y2="90.5" stroke="#19e6e6" stroke-width="2.7"/>
<text x="117.3" y="74.9" font-size="14" textLength="76.3" lengthAdjust="spacingAndGlyphs">AI Strategy</text>
<text x="117.3" y="95.6" font-size="14" textLength="92.2" lengthAdjust="spacingAndGlyphs">Buy-and-Hold</text>
</svg></body></html>
